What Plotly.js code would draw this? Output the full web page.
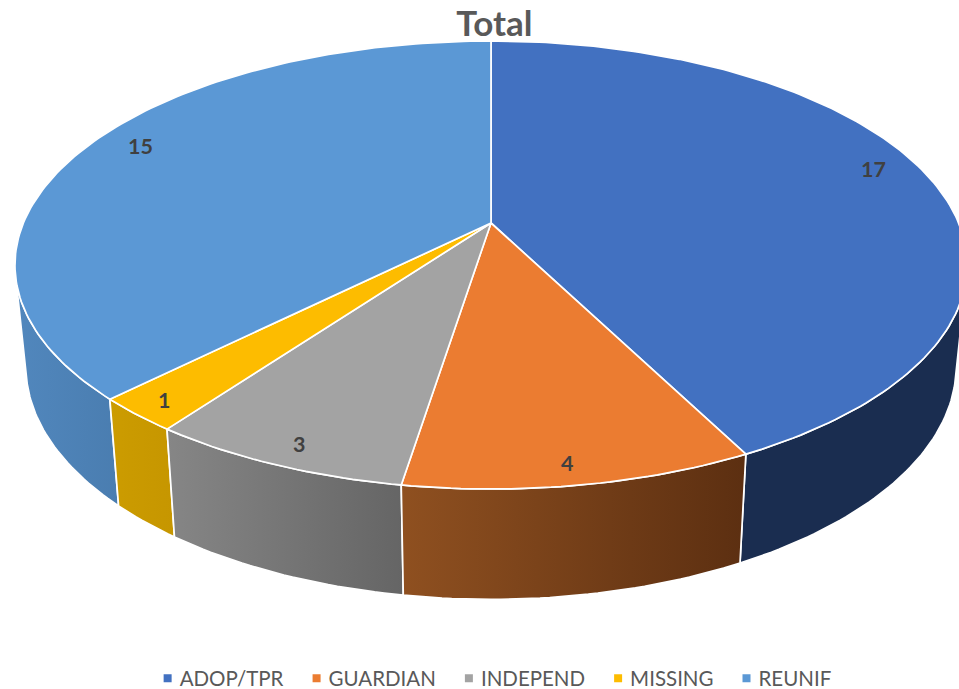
<!DOCTYPE html>
<html><head><meta charset="utf-8">
<script src="https://cdn.plot.ly/plotly-3.0.1.min.js"></script>
<style>html,body{margin:0;padding:0;background:#fff}</style></head>
<body><div id="chart" style="width:959px;height:689px"></div>
<script>
var categories = ["ADOP/TPR","GUARDIAN","INDEPEND","MISSING","REUNIF"];
var values = [17,4,3,1,15];
var topColors = ["#4271c1","#eb7c31","#a3a3a3","#fdbc00","#5b98d5"];
var wallLeft = ["#1a2d50","#8f5020","#868686","#cc9c00","#5187bd"];
var wallRight = ["#1a2d50","#5c2f11","#656565","#c69600","#4a7db0"];
var labelNudgeX = [1,0,-9,-25,3];
var labelNudgeY = [12,-19,-16,-14,9];

// pie-to-screen perspective
var CX=491, R=467.6, C=0.1875, A=-174.3, B=223;
var WALL_S=0.977, WALL_YS=1.04, WALL_YT=90.8;
var RIGHT_TANGENT=105, LEFT_TANGENT=255;
function proj(deg,f){
  var t=deg*Math.PI/180, u=f*Math.sin(t), v=f*Math.cos(t), w=1+C*v;
  return [CX+R*u/w,(A*v+B)/w];
}
function projBottom(deg){
  var p=proj(deg,1);
  return [CX+(p[0]-CX)*WALL_S,p[1]*WALL_YS+WALL_YT];
}
var total=values.reduce(function(a,b){return a+b},0);
var starts=[],ends=[],acc=0;
values.forEach(function(v){starts.push(acc/total*360);acc+=v;ends.push(acc/total*360);});

var traces=[];
// side walls: front-facing part only, bounded by the silhouette tangents
var wallOrder=[4,0,3,2,1];
wallOrder.forEach(function(i){
  var a0=Math.max(starts[i],RIGHT_TANGENT),a1=Math.min(ends[i],LEFT_TANGENT);
  var step=Math.min(1,(a1-a0)/4);
  var xs=[],ys=[],d,p;
  for(d=a0;d<=a1+1e-9;d+=step){p=proj(d,1);xs.push(p[0]);ys.push(p[1]);}
  for(d=a1;d>=a0-1e-9;d-=step){p=projBottom(d);xs.push(p[0]);ys.push(p[1]);}
  xs.push(xs[0]);ys.push(ys[0]);
  traces.push({type:"scatter",mode:"lines",x:xs,y:ys,fill:"toself",fillcolor:wallLeft[i],
    fillgradient:{type:"horizontal",colorscale:[[0,wallLeft[i]],[1,wallRight[i]]]},
    line:{color:"#ffffff",width:1.7},hoverinfo:"skip",showlegend:false});
});
// top face
values.forEach(function(v,i){
  var xs=[CX],ys=[B],d,p;
  for(d=starts[i];d<ends[i];d+=1){p=proj(d,1);xs.push(p[0]);ys.push(p[1]);}
  p=proj(ends[i],1);xs.push(p[0],CX);ys.push(p[1],B);
  traces.push({type:"scatter",mode:"lines",x:xs,y:ys,fill:"toself",fillcolor:topColors[i],
    line:{color:"#ffffff",width:1.7},name:categories[i],text:String(v),hoverinfo:"name+text",showlegend:false});
});
// legend entries
categories.forEach(function(c,i){
  traces.push({type:"scatter",mode:"markers",x:[null],y:[null],name:c,
    marker:{symbol:"square",size:8,color:topColors[i]},showlegend:true});
});
var annotations=values.map(function(v,i){
  var p=proj((starts[i]+ends[i])/2,0.87);
  return {x:p[0],y:p[1],xref:"x",yref:"y",text:"<b>"+v+"</b>",showarrow:false,
    xshift:labelNudgeX[i],yshift:labelNudgeY[i],font:{family:"Lato, Arial",size:21.5,color:"#404040"}};
});
var layout={
  width:959,height:689,margin:{l:0,r:0,t:0,b:0,autoexpand:false},paper_bgcolor:"#fff",plot_bgcolor:"#fff",
  xaxis:{range:[0,959],visible:false,fixedrange:true},
  yaxis:{range:[689,0],visible:false,fixedrange:true},
  title:{text:"<b>Total</b>",font:{family:"Lato, Arial",size:35,color:"#595959"},x:0.5155,xanchor:"center",y:0.966,yanchor:"middle"},
  showlegend:true,
  legend:{orientation:"h",x:0.509,xanchor:"center",y:0.0155,yanchor:"middle",traceorder:"normal",
    font:{family:"Lato, Arial",size:20.5,color:"#595959"},bgcolor:"rgba(0,0,0,0)"},
  annotations:annotations
};
Plotly.newPlot("chart",traces,layout,{displayModeBar:false,staticPlot:true}).then(function(gd){
  // bring each legend swatch closer to its label
  gd.querySelectorAll(".legend .legendsymbols").forEach(function(g){g.setAttribute("transform","translate(8,0)");});
});
</script></body></html>
